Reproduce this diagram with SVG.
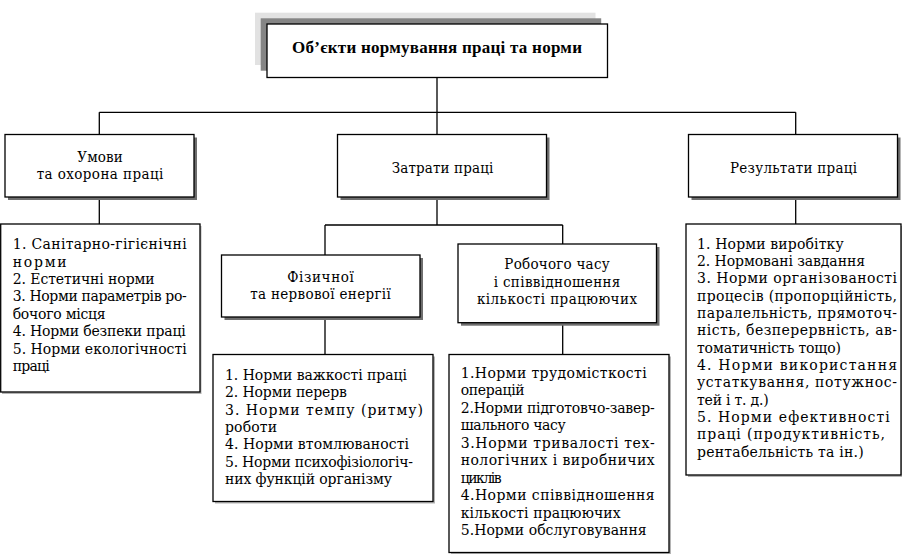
<svg xmlns="http://www.w3.org/2000/svg" width="903" height="554" viewBox="0 0 903 554">
<style>
.box{fill:#fff;stroke:#000;stroke-width:1.3}
.sh{fill:#6e6e6e}
.lsh{fill:#b4b4b4}
.con{fill:none;stroke:#000;stroke-width:1.3}
text{fill:#000}
.h{font-family:"DejaVu Serif Condensed","DejaVu Serif","Liberation Serif",serif;font-stretch:condensed;font-size:15px;text-anchor:middle}
.l{font-family:"DejaVu Serif","Liberation Serif",serif;font-size:14px}
.t{font-family:"Liberation Serif","Times New Roman",serif;font-weight:bold;font-size:17px;text-anchor:middle}
</style>
<rect width="903" height="554" fill="#fff"/>
<g id="connectors">
<path class="con" d="M437 77.5V134.5M99.3 112.3H795.7M99.3 112.3V134.5M795.7 112.3V134.5"/>
<path class="con" d="M99.3 197V224"/>
<path class="con" d="M437 197V225M325 225H562.7M325 225V255M562.7 225V244"/>
<path class="con" d="M325 317V354.5M562.7 322.7V354.5"/>
<path class="con" d="M795.7 197V224"/>
</g>
<g id="title">
<rect x="255" y="12.7" width="340.5" height="52.3" fill="#e2e2e2"/>
<rect x="260.7" y="18.3" width="340.5" height="52.4" fill="#858585"/>
<rect class="box" x="267" y="24" width="340.5" height="53.5"/>
<text class="t" x="437" y="53.3" textLength="290" lengthAdjust="spacing">Об’єкти нормування праці та норми</text>
</g>
<g id="umovy">
<rect class="sh" x="8" y="137.5" width="189" height="62.5"/>
<rect class="box" x="5" y="134.5" width="189" height="62.5"/>
<text class="h" x="100" y="161.7" textLength="45.5" lengthAdjust="spacing">Умови</text>
<text class="h" x="100" y="179.3" textLength="126.7" lengthAdjust="spacing">та охорона праці</text>
</g>
<g id="zatraty">
<rect class="sh" x="340.5" y="137.5" width="209" height="62.5"/>
<rect class="box" x="337.5" y="134.5" width="209" height="62.5"/>
<text class="h" x="442.5" y="172.7" textLength="101.6" lengthAdjust="spacing">Затрати праці</text>
</g>
<g id="rezultaty">
<rect class="sh" x="691.5" y="137.5" width="209" height="62.5"/>
<rect class="box" x="688.5" y="134.5" width="209" height="62.5"/>
<text class="h" x="793.5" y="173.3" textLength="127" lengthAdjust="spacing">Результати праці</text>
</g>
<g id="fizychnoi">
<rect class="sh" x="224.5" y="258" width="198.5" height="62"/>
<rect class="box" x="221.5" y="255" width="198.5" height="62"/>
<text class="h" x="320.5" y="281.7" textLength="66.7" lengthAdjust="spacing">Фізичної</text>
<text class="h" x="320.5" y="299.3" textLength="140.7" lengthAdjust="spacing">та нервової енергії</text>
</g>
<g id="robochogo">
<rect class="sh" x="461" y="247" width="198.5" height="78.7"/>
<rect class="box" x="458" y="244" width="198.5" height="78.7"/>
<text class="h" x="557" y="269.3" textLength="105.3" lengthAdjust="spacing">Робочого часу</text>
<text class="h" x="557" y="286.5" textLength="126.7" lengthAdjust="spacing">і співвідношення</text>
<text class="h" x="557" y="303.6" textLength="160" lengthAdjust="spacing">кількості працюючих</text>
</g>
<g id="umovy-list">
<rect class="lsh" x="2" y="226" width="199.5" height="168"/>
<rect class="box" x="0.7" y="224" width="199.3" height="168"/>
<text class="l" x="12.7" y="249.3" textLength="174" lengthAdjust="spacing">1. Санітарно-гігієнічні</text>
<text class="l" x="12.7" y="266.7" textLength="54" lengthAdjust="spacing">норми</text>
<text class="l" x="12.7" y="284" textLength="142" lengthAdjust="spacing">2. Естетичні норми</text>
<text class="l" x="12.7" y="301.4" textLength="174" lengthAdjust="spacing">3. Норми параметрів ро-</text>
<text class="l" x="12.7" y="318.8" textLength="93" lengthAdjust="spacing">бочого місця</text>
<text class="l" x="12.7" y="336.2" textLength="173" lengthAdjust="spacing">4. Норми безпеки праці</text>
<text class="l" x="12.7" y="353.6" textLength="174" lengthAdjust="spacing">5. Норми екологічності</text>
<text class="l" x="12.7" y="371" textLength="37" lengthAdjust="spacing">праці</text>
</g>
<g id="fizychnoi-list">
<rect class="lsh" x="215" y="356.5" width="220" height="147"/>
<rect class="box" x="213" y="354.5" width="220" height="147"/>
<text class="l" x="225" y="380" textLength="182" lengthAdjust="spacing">1. Норми важкості праці</text>
<text class="l" x="225" y="397.3" textLength="122" lengthAdjust="spacing">2. Норми перерв</text>
<text class="l" x="225" y="414.7" textLength="198" lengthAdjust="spacing">3. Норми темпу (ритму)</text>
<text class="l" x="225" y="432" textLength="52" lengthAdjust="spacing">роботи</text>
<text class="l" x="225" y="449.3" textLength="184" lengthAdjust="spacing">4. Норми втомлюваності</text>
<text class="l" x="225" y="466.7" textLength="188" lengthAdjust="spacing">5. Норми психофізіологіч-</text>
<text class="l" x="225" y="484" textLength="167" lengthAdjust="spacing">них функцій організму</text>
</g>
<g id="robochogo-list">
<rect class="lsh" x="451" y="356.5" width="220" height="198"/>
<rect class="box" x="449" y="354.5" width="220" height="198"/>
<text class="l" x="460.7" y="377.5" textLength="186" lengthAdjust="spacing">1.Норми трудомісткості</text>
<text class="l" x="460.7" y="395" textLength="64" lengthAdjust="spacing">операцій</text>
<text class="l" x="460.7" y="412.5" textLength="194" lengthAdjust="spacing">2.Норми підготовчо-завер-</text>
<text class="l" x="460.7" y="430" textLength="105" lengthAdjust="spacing">шального часу</text>
<text class="l" x="460.7" y="447.5" textLength="194" lengthAdjust="spacing">3.Норми тривалості тех-</text>
<text class="l" x="460.7" y="465" textLength="194" lengthAdjust="spacing">нологічних і виробничих</text>
<text class="l" x="460.7" y="482.5" textLength="41" lengthAdjust="spacing">циклів</text>
<text class="l" x="460.7" y="500" textLength="194" lengthAdjust="spacing">4.Норми співвідношення</text>
<text class="l" x="460.7" y="517.5" textLength="160" lengthAdjust="spacing">кількості працюючих</text>
<text class="l" x="460.7" y="535" textLength="186" lengthAdjust="spacing">5.Норми обслуговування</text>
</g>
<g id="rezultaty-list">
<rect class="lsh" x="688" y="226" width="214" height="251"/>
<rect class="box" x="686" y="224" width="215" height="251"/>
<text class="l" x="697" y="248.5" textLength="146.7" lengthAdjust="spacing">1. Норми виробітку</text>
<text class="l" x="697" y="265.9" textLength="168" lengthAdjust="spacing">2. Нормовані завдання</text>
<text class="l" x="697" y="283.2" textLength="200" lengthAdjust="spacing">3. Норми організованості</text>
<text class="l" x="697" y="300.6" textLength="200" lengthAdjust="spacing">процесів (пропорційність,</text>
<text class="l" x="697" y="317.9" textLength="200" lengthAdjust="spacing">паралельність, прямоточ-</text>
<text class="l" x="697" y="335.3" textLength="200" lengthAdjust="spacing">ність, безперервність, ав-</text>
<text class="l" x="697" y="352.7" textLength="144" lengthAdjust="spacing">томатичність тощо)</text>
<text class="l" x="697" y="370" textLength="200" lengthAdjust="spacing">4. Норми використання</text>
<text class="l" x="697" y="387.4" textLength="200" lengthAdjust="spacing">устаткування, потужнос-</text>
<text class="l" x="697" y="404.7" textLength="71.7" lengthAdjust="spacing">тей і т. д.)</text>
<text class="l" x="697" y="422.1" textLength="192.7" lengthAdjust="spacing">5. Норми ефективності</text>
<text class="l" x="697" y="439.4" textLength="188" lengthAdjust="spacing">праці (продуктивність,</text>
<text class="l" x="697" y="456.8" textLength="166.7" lengthAdjust="spacing">рентабельність та ін.)</text>
</g>
</svg>
